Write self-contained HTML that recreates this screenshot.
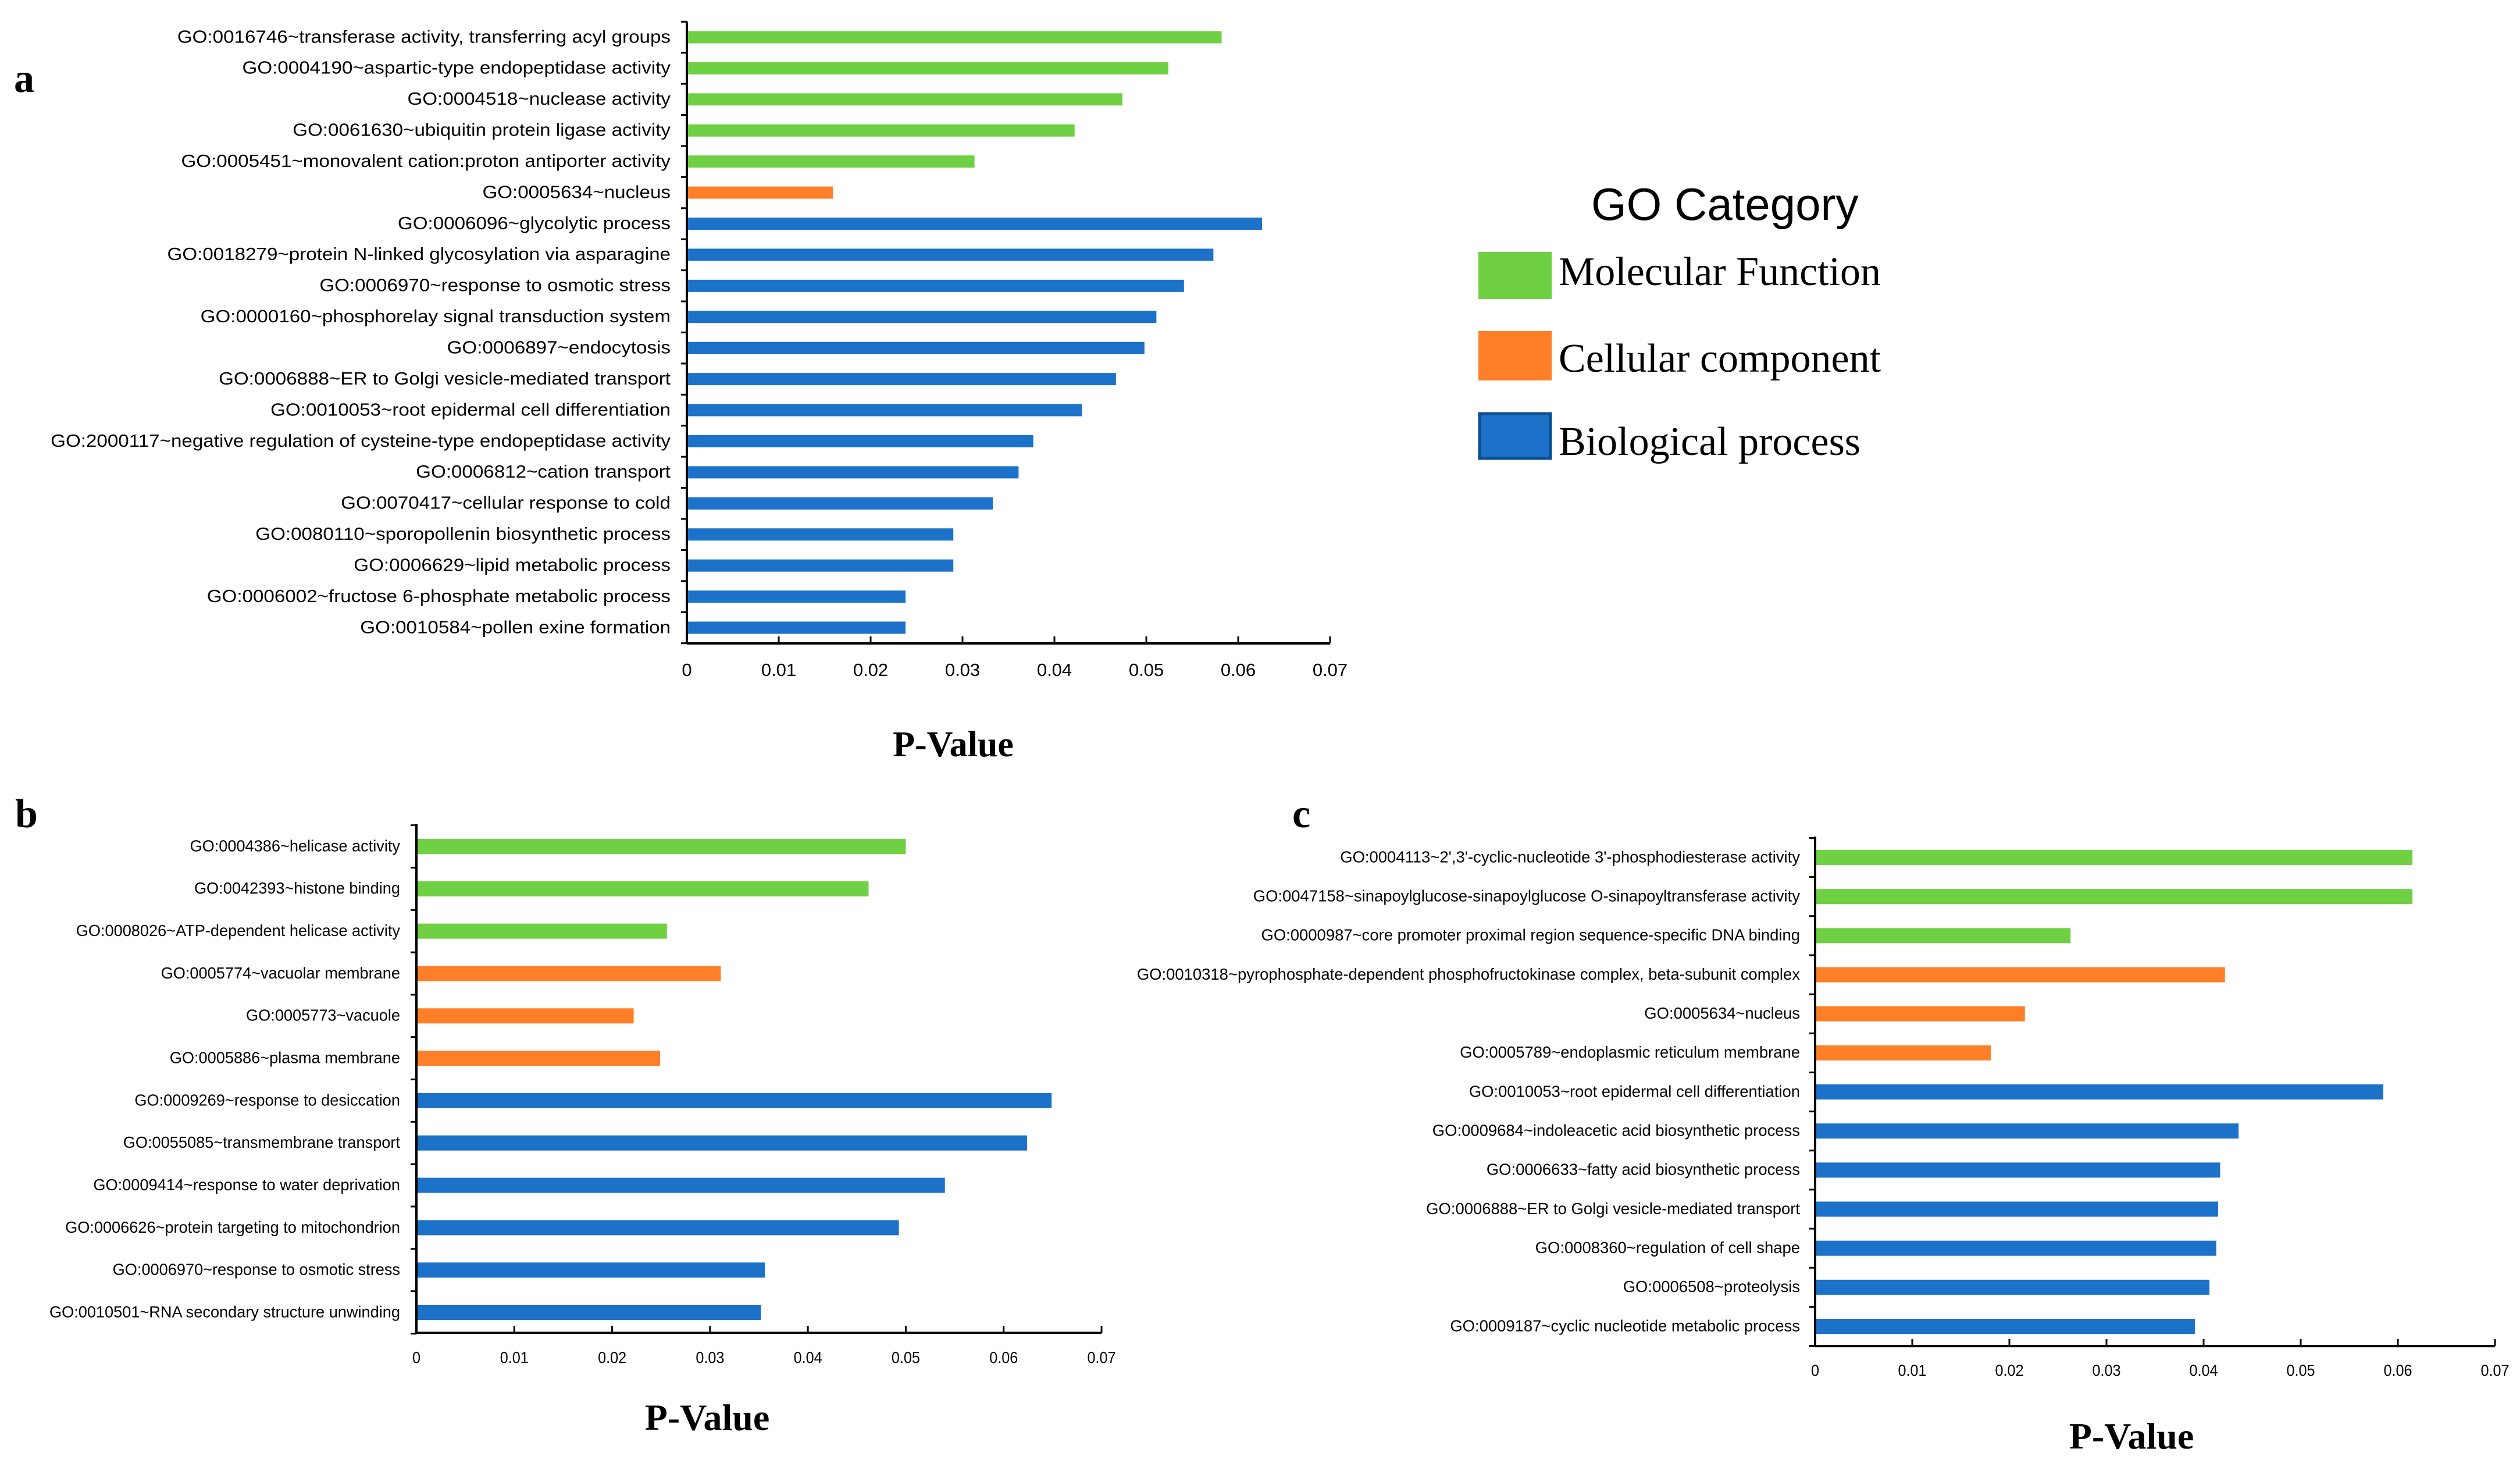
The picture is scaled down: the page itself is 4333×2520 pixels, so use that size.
<!DOCTYPE html>
<html><head><meta charset="utf-8"><style>
html,body{margin:0;padding:0;background:#fff;}
svg{display:block;}
.lab{font-family:"Liberation Sans",sans-serif;}
.ttl{font-family:"Liberation Serif",serif;font-weight:bold;}
</style></head><body>
<svg id="chart" width="4333" height="2520" viewBox="0 0 4333 2520" xmlns="http://www.w3.org/2000/svg">
<g id="legend">
 <text x="2736" y="378" class="lab" font-size="78">GO Category</text>
 <rect x="2542" y="433" width="126" height="81" fill="#70d044"/>
 <text x="2680" y="490" font-family="Liberation Serif,serif" font-size="70">Molecular Function</text>
 <rect x="2542" y="569" width="126" height="85" fill="#fe7f27"/>
 <text x="2680" y="639" font-family="Liberation Serif,serif" font-size="70">Cellular component</text>
 <rect x="2544" y="711" width="122" height="77" fill="#1b72c8" stroke="#0d4f92" stroke-width="5"/>
 <text x="2680" y="782" font-family="Liberation Serif,serif" font-size="70">Biological process</text>
</g>
</svg>
<script>
const COLORS = {MF:'#70d044', CC:'#fe7f27', BP:'#1b72c8'};
const ticks = ['0','0.01','0.02','0.03','0.04','0.05','0.06','0.07'];
const tickValues = [0,0.01,0.02,0.03,0.04,0.05,0.06,0.07];

const aLabels = ['GO:0016746~transferase activity, transferring acyl groups','GO:0004190~aspartic-type endopeptidase activity','GO:0004518~nuclease activity','GO:0061630~ubiquitin protein ligase activity','GO:0005451~monovalent cation:proton antiporter activity','GO:0005634~nucleus','GO:0006096~glycolytic process','GO:0018279~protein N-linked glycosylation via asparagine','GO:0006970~response to osmotic stress','GO:0000160~phosphorelay signal transduction system','GO:0006897~endocytosis','GO:0006888~ER to Golgi vesicle-mediated transport','GO:0010053~root epidermal cell differentiation','GO:2000117~negative regulation of cysteine-type endopeptidase activity','GO:0006812~cation transport','GO:0070417~cellular response to cold','GO:0080110~sporopollenin biosynthetic process','GO:0006629~lipid metabolic process','GO:0006002~fructose 6-phosphate metabolic process','GO:0010584~pollen exine formation'];
const aValues = [0.0582,0.0524,0.0474,0.0422,0.0313,0.0159,0.0626,0.0573,0.0541,0.0511,0.0498,0.0467,0.0430,0.0377,0.0361,0.0333,0.0290,0.0290,0.0238,0.0238];
const aCats = ['MF','MF','MF','MF','MF','CC','BP','BP','BP','BP','BP','BP','BP','BP','BP','BP','BP','BP','BP','BP'];

const bLabels = ['GO:0004386~helicase activity','GO:0042393~histone binding','GO:0008026~ATP-dependent helicase activity','GO:0005774~vacuolar membrane','GO:0005773~vacuole','GO:0005886~plasma membrane','GO:0009269~response to desiccation','GO:0055085~transmembrane transport','GO:0009414~response to water deprivation','GO:0006626~protein targeting to mitochondrion','GO:0006970~response to osmotic stress','GO:0010501~RNA secondary structure unwinding'];
const bValues = [0.0500,0.0462,0.0256,0.0311,0.0222,0.0249,0.0649,0.0624,0.0540,0.0493,0.0356,0.0352];
const bCats = ['MF','MF','MF','CC','CC','CC','BP','BP','BP','BP','BP','BP'];

const cLabels = ["GO:0004113~2',3'-cyclic-nucleotide 3'-phosphodiesterase activity",'GO:0047158~sinapoylglucose-sinapoylglucose O-sinapoyltransferase activity','GO:0000987~core promoter proximal region sequence-specific DNA binding','GO:0010318~pyrophosphate-dependent phosphofructokinase complex, beta-subunit complex','GO:0005634~nucleus','GO:0005789~endoplasmic reticulum membrane','GO:0010053~root epidermal cell differentiation','GO:0009684~indoleacetic acid biosynthetic process','GO:0006633~fatty acid biosynthetic process','GO:0006888~ER to Golgi vesicle-mediated transport','GO:0008360~regulation of cell shape','GO:0006508~proteolysis','GO:0009187~cyclic nucleotide metabolic process'];
const cValues = [0.0615,0.0615,0.0263,0.0422,0.0216,0.0181,0.0585,0.0436,0.0417,0.0415,0.0413,0.0406,0.0391];
const cCats = ['MF','MF','MF','CC','CC','CC','BP','BP','BP','BP','BP','BP','BP'];

const NS='http://www.w3.org/2000/svg';
const svg=document.getElementById('chart');
function mk(tag,attrs,parent){const e=document.createElementNS(NS,tag);for(const k in attrs)e.setAttribute(k,attrs[k]);parent.appendChild(e);return e;}

function panel(cfg,labels,values,cats){
  const g=mk('g',{},svg);
  
  
  const xs=v=>cfg.x0+(v/0.07)*(cfg.x1-cfg.x0);
  const n=labels.length;
  const step=(cfg.yLast-cfg.yFirst)/(n-1);
  const yc=i=>cfg.yFirst+i*step;
  for(let i=0;i<n;i++){
    const r=mk('rect',{x:cfg.x0,y:yc(i)-cfg.bh/2,width:xs(values[i])-cfg.x0,height:cfg.bh,fill:COLORS[cats[i]]},g);
    
    
    const t=mk('text',{x:0,y:0,'text-anchor':'end','font-size':cfg.fs,class:'lab',transform:'translate('+cfg.lx+','+(yc(i)+cfg.fs*0.3)+') scale('+cfg.sx+',1)'},g);
    t.textContent=labels[i];
    
    
  }
  const ya=mk('line',{x1:cfg.x0,y1:cfg.yTop,x2:cfg.x0,y2:cfg.yBot,stroke:'#000','stroke-width':4},g);
  
  
  for(let i=0;i<=n;i++){
    const yy=cfg.yFirst-step/2+i*step;
    mk('line',{x1:cfg.x0-10,y1:yy,x2:cfg.x0,y2:yy,stroke:'#000','stroke-width':3},g);
  }
  const xa=mk('line',{x1:cfg.x0,y1:cfg.yBot,x2:cfg.x1,y2:cfg.yBot,stroke:'#000','stroke-width':4},g);
  
  
  for(let i=0;i<tickValues.length;i++){
    const xx=xs(tickValues[i]);
    mk('line',{x1:xx,y1:cfg.yBot,x2:xx,y2:cfg.yBot-12,stroke:'#000','stroke-width':3},g);
    const t=mk('text',{x:0,y:0,'text-anchor':'middle','font-size':cfg.tfs,class:'lab',transform:'translate('+xx+','+cfg.ty+') scale('+cfg.tsx+',1)'},g);
    t.textContent=ticks[i];
    
    
  }
  const xt=mk('text',{x:cfg.px,y:cfg.py,'text-anchor':'middle','font-size':cfg.pfs,class:'ttl'},g);
  xt.textContent='P-Value';
  
  
  const pl=mk('text',{x:cfg.letx,y:cfg.lety,'font-size':70,class:'ttl'},g);
  pl.textContent=cfg.id;
  
  
}

panel({id:'a',x0:1181,x1:2287,yTop:37,yBot:1106,yFirst:64,yLast:1079,bh:21,lx:1153,fs:31,sx:1.07,tfs:31,tsx:1,ty:1162,px:1639,py:1300,pfs:62,letx:24,lety:158},aLabels,aValues,aCats);
panel({id:'b',x0:716,x1:1894,yTop:1416,yBot:2291,yFirst:1455,yLast:2256,bh:26,lx:688,fs:28,sx:0.97,tfs:28,tsx:0.9,ty:2343,px:1216,py:2458,pfs:64,letx:26,lety:1422},bLabels,bValues,bCats);
panel({id:'c',x0:3121,x1:4290,yTop:1438,yBot:2314,yFirst:1474,yLast:2280,bh:26,lx:3095,fs:28,sx:0.98,tfs:28,tsx:0.9,ty:2365,px:3665,py:2490,pfs:64,letx:2222,lety:1422},cLabels,cValues,cCats);
</script>
</body></html>
